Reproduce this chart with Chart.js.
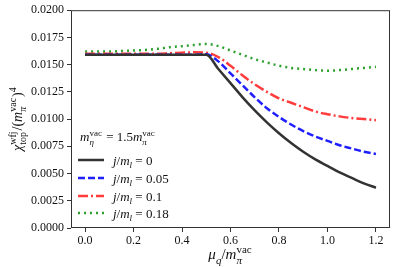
<!DOCTYPE html>
<html lang="en">
<head>
    <meta charset="UTF-8">
    <title>chi top vs mu</title>
    <script src="https://cdn.jsdelivr.net/npm/chart.js"></script>
    <style>
        html, body { margin: 0; padding: 0; background: #fff; }
        #wrap { width: 393px; height: 267px; position: relative; }
    </style>
</head>
<body>
    <div id="wrap"><canvas id="chart"></canvas></div>

    <script>
        // mu_q / m_pi^vac
        const mu = [0.0, 0.05, 0.1, 0.15, 0.2, 0.25, 0.3, 0.35, 0.4, 0.45, 0.5, 0.55, 0.6,
                    0.65, 0.7, 0.75, 0.8, 0.85, 0.9, 0.95, 1.0, 1.05, 1.1, 1.15, 1.2];

        // chi_top^wfj / (m_pi^vac)^4 for each j/m_l
        const j000 = [0.0159, 0.0159, 0.0159, 0.0159, 0.0159, 0.0159, 0.0159, 0.0159, 0.0159, 0.0159, 0.0159, 0.0146, 0.0133,
                      0.0120, 0.0108, 0.0097, 0.0087, 0.0078, 0.0070, 0.0063, 0.0057, 0.0051, 0.0046, 0.0041, 0.0037];
        const j005 = [0.0159, 0.0159, 0.0159, 0.0159, 0.0159, 0.0159, 0.0159, 0.0159, 0.0159, 0.0159, 0.01595, 0.0153, 0.0142,
                      0.0131, 0.0120, 0.0110, 0.0102, 0.0095, 0.0089, 0.0084, 0.0080, 0.0076, 0.0073, 0.0070, 0.0068];
        const j010 = [0.0160, 0.0160, 0.0160, 0.0160, 0.0160, 0.0160, 0.0160, 0.01605, 0.0161, 0.01613, 0.0161, 0.0157, 0.0149,
                      0.0140, 0.0132, 0.0125, 0.0119, 0.0115, 0.0111, 0.0107, 0.01045, 0.01025, 0.0101, 0.0100, 0.0099];
        const j018 = [0.0162, 0.0162, 0.0162, 0.01625, 0.0163, 0.01635, 0.01645, 0.0166, 0.0167, 0.0168, 0.0169, 0.0167, 0.0163,
                      0.0159, 0.0155, 0.0152, 0.0149, 0.0147, 0.0146, 0.0145, 0.01445, 0.0145, 0.0146, 0.0147, 0.0148];

        const xTicks = [0.0, 0.2, 0.4, 0.6, 0.8, 1.0, 1.2];
        const yTicks = [0.0, 0.0025, 0.005, 0.0075, 0.01, 0.0125, 0.015, 0.0175, 0.02];
        const legendLabels = ['0', '0.05', '0.1', '0.18'];

        const SERIF = '"Liberation Serif", "DejaVu Serif", serif';

        function pts(ys) {
            return mu.map((x, i) => ({ x: x, y: ys[i] }));
        }

        const series = [
            { data: j000, color: '#333333', dash: [] },
            { data: j005, color: '#1f1fff', dash: [7, 3] },
            { data: j010, color: '#ff3b3b', dash: [10, 3, 2, 3] },
            { data: j018, color: '#2ea02e', dash: [2, 4] }
        ];

        // text pieces: [text, italic, pos, text2]; pos = 'b' | 'sub' | 'sup' | 'ss' (sub + sup stacked)
        function drawRich(ctx, x, y, parts, size, measureOnly) {
            const small = Math.round(size * 0.7);
            for (const p of parts) {
                const [txt, it, pos, txt2] = p;
                if (pos === 'ss') {
                    ctx.font = (it ? 'italic ' : '') + small + 'px ' + SERIF;
                    if (!measureOnly) ctx.fillText(txt, x, y + size * 0.3);
                    const w1 = ctx.measureText(txt).width;
                    ctx.font = small + 'px ' + SERIF;
                    if (!measureOnly) ctx.fillText(txt2, x, y - size * 0.42);
                    const w2 = ctx.measureText(txt2).width;
                    x += Math.max(w1, w2) + 1;
                    continue;
                }
                const fs = pos === 'b' ? size : small;
                ctx.font = (it ? 'italic ' : '') + fs + 'px ' + SERIF;
                const dy = pos === 'sub' ? size * 0.3 : pos === 'sup' ? -size * 0.42 : 0;
                if (!measureOnly) ctx.fillText(txt, x, y + dy);
                x += ctx.measureText(txt).width;
            }
            return x;
        }

        const extras = {
            id: 'extras',
            afterDraw(chart) {
                const ctx = chart.ctx;
                const a = chart.chartArea;
                ctx.save();
                // frame
                ctx.strokeStyle = '#333';
                ctx.lineWidth = 1;
                ctx.strokeRect(a.left + 0.5, a.top + 0.5, a.right - a.left - 1, a.bottom - a.top - 1);

                ctx.fillStyle = '#111';
                ctx.textBaseline = 'alphabetic';
                ctx.textAlign = 'left';

                // legend title
                drawRich(ctx, 80, 141, [
                    ['m', true, 'b'], ['η', true, 'ss', 'vac'], [' = 1.5', false, 'b'],
                    ['m', true, 'b'], ['π', true, 'ss', 'vac']
                ], 13);

                // legend entries
                const rows = [160, 178, 196, 213];
                series.forEach((s, i) => {
                    ctx.save();
                    ctx.strokeStyle = s.color;
                    ctx.lineWidth = 2.5;
                    ctx.setLineDash(s.dash);
                    ctx.beginPath();
                    ctx.moveTo(78, rows[i]);
                    ctx.lineTo(104, rows[i]);
                    ctx.stroke();
                    ctx.restore();
                    drawRich(ctx, 113, rows[i] + 4.5, [
                        ['j', true, 'b'], ['/', false, 'b'], ['m', true, 'b'], ['l', true, 'sub'],
                        [' = ' + legendLabels[i], false, 'b']
                    ], 13);
                });

                // x title
                const xParts = [['μ', true, 'b'], ['q', true, 'sub'], ['/', false, 'b'], ['m', true, 'b'], ['π', true, 'ss', 'vac']];
                const xw = drawRich(ctx, 0, 0, xParts, 15, true);
                drawRich(ctx, (a.left + a.right) / 2 - xw / 2, 259, xParts, 15);

                // y title (rotated)
                const yParts = [['χ', true, 'b'], ['top', false, 'ss', 'wfj'], ['/(', false, 'b'], ['m', true, 'b'],
                                ['π', true, 'ss', 'vac'], [')', false, 'b'], ['4', false, 'sup']];
                const yw = drawRich(ctx, 0, 0, yParts, 14, true);
                ctx.translate(22, (a.top + a.bottom) / 2);
                ctx.rotate(-Math.PI / 2);
                drawRich(ctx, -yw / 2, 0, yParts, 14);
                ctx.restore();
            }
        };

        const ctx = document.getElementById('chart').getContext('2d');
        const chart = new Chart(ctx, {
            type: 'line',
            data: {
                datasets: series.map((s, i) => ({
                    label: 'j/ml = ' + legendLabels[i],
                    data: pts(s.data),
                    borderColor: s.color,
                    borderDash: s.dash,
                    borderWidth: 2.5,
                    pointRadius: 0,
                    cubicInterpolationMode: 'monotone',
                    fill: false
                }))
            },
            options: {
                responsive: true,
                maintainAspectRatio: false,
                animation: false,
                layout: { padding: { left: 0, right: 3, top: 6, bottom: 0 } },
                plugins: { legend: { display: false }, tooltip: { enabled: false } },
                scales: {
                    x: {
                        type: 'linear',
                        min: -0.058,
                        max: 1.258,
                        afterBuildTicks: (s) => { s.ticks = xTicks.map(v => ({ value: v })); },
                        afterFit: (s) => { s.height = 39; },
                        grid: { drawOnChartArea: false, tickLength: 4, color: '#333' },
                        border: { display: false },
                        ticks: {
                            color: '#111',
                            font: { family: SERIF, size: 12 },
                            padding: 2,
                            maxRotation: 0,
                            callback: (v) => v.toFixed(1)
                        }
                    },
                    y: {
                        min: 0,
                        max: 0.02,
                        afterBuildTicks: (s) => { s.ticks = yTicks.map(v => ({ value: v })); },
                        afterFit: (s) => { s.width = 71; },
                        grid: { drawOnChartArea: false, tickLength: 4, color: '#333' },
                        border: { display: false },
                        ticks: {
                            color: '#111',
                            font: { family: SERIF, size: 12 },
                            padding: 3,
                            callback: (v) => v.toFixed(4)
                        }
                    }
                }
            },
            plugins: [extras]
        });
    </script>
</body>
</html>
